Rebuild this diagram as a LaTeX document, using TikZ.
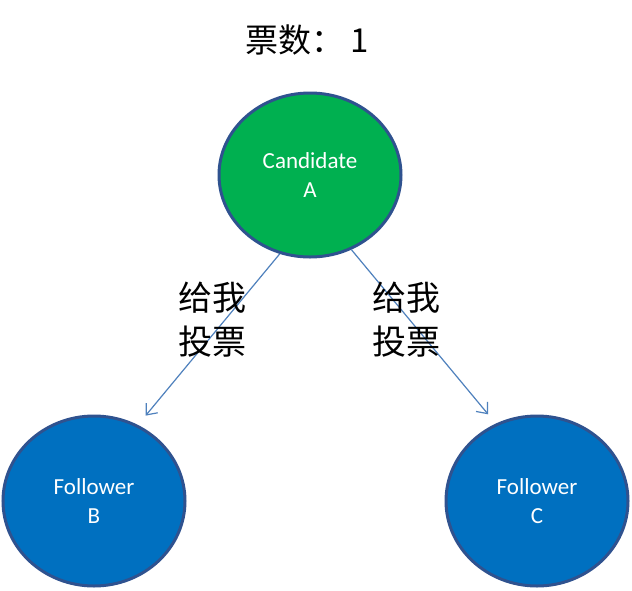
\documentclass[tikz,border=0pt]{standalone}
\usepackage{fontspec}
\setmainfont{Carlito}
\newfontfamily\cjk{Noto Sans CJK SC}
\usetikzlibrary{shapes.geometric,arrows.meta}
\definecolor{candgreen}{HTML}{00B050}
\definecolor{follblue}{HTML}{0070C0}
\definecolor{rimblue}{HTML}{2F528F}
\definecolor{arrowblue}{HTML}{4F81BD}
\begin{document}
\begin{tikzpicture}[x=1pt,y=-1pt,
  circ/.style={ellipse, draw=rimblue, line width=3pt, inner sep=0pt, text=white,
    font=\fontsize{23}{29}\selectfont, align=center},
  vote/.style={draw=arrowblue, line width=1.2pt, -{Straight Barb[length=9pt,width=15pt]}, shorten >=12pt},
  lbl/.style={font=\cjk\fontsize{34}{44}\selectfont, align=center, inner sep=0pt}]
\useasboundingbox[fill=white] (0,0) rectangle (632,590);
\node[font=\cjk\fontsize{33}{33}\selectfont, inner sep=0pt] (title) at (307,40) {票数：\,1};
\node[circ, fill=candgreen, minimum width=182pt, minimum height=164pt] (A) at (310,175) {Candidate\\A};
\node[circ, fill=follblue, minimum width=182pt, minimum height=170pt] (B) at (94,501) {Follower\\B};
\node[circ, fill=follblue, minimum width=182pt, minimum height=170pt] (C) at (537,501) {Follower\\C};
\draw[vote] (A.-111) -- (B.60);
\draw[vote] (A.-61) -- (C.118);
\node[lbl] (l1) at (212,320) {给我\\投票};
\node[lbl] (l2) at (406,320) {给我\\投票};
\end{tikzpicture}
\end{document}
